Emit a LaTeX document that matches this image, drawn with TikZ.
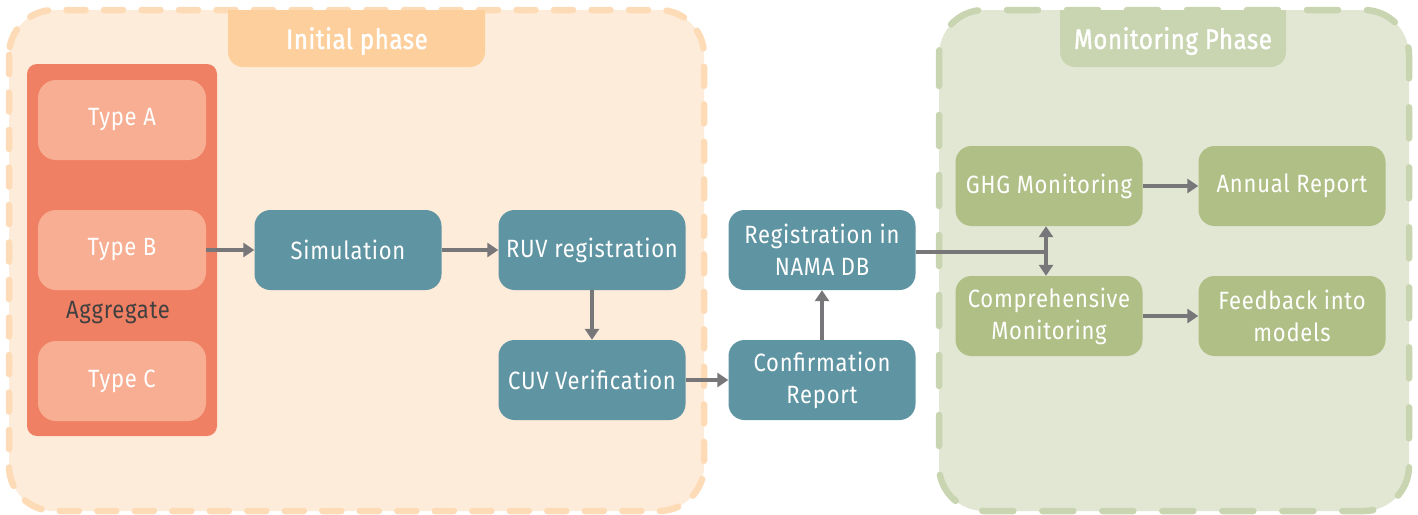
\documentclass[tikz,border=0pt]{standalone}
\usepackage{fontspec}
\setmainfont{Fira Sans}[FakeStretch=0.88, LetterSpace=3]
\newfontfamily\titlefont{Fira Sans}[FakeStretch=0.86, LetterSpace=2, FakeBold=1.3]
\usetikzlibrary{arrows.meta}
\definecolor{inifill}{HTML}{FDECDA}
\definecolor{iniborder}{HTML}{FDDBB6}
\definecolor{initab}{HTML}{FDCF9D}
\definecolor{aggcol}{HTML}{F08064}
\definecolor{typecol}{HTML}{F7AE93}
\definecolor{tealcol}{HTML}{5F94A2}
\definecolor{greencol}{HTML}{AFBF85}
\definecolor{monfill}{HTML}{E2E7D3}
\definecolor{monborder}{HTML}{C9D5B1}
\definecolor{arrowcol}{HTML}{77777A}
\definecolor{aggtext}{HTML}{404040}
\tikzset{
  basebox/.style={rounded corners=16pt, minimum width=187pt, minimum height=80pt, align=center, text=white, font=\fontsize{25}{32}\selectfont, inner sep=0pt},
  tealbox/.style={basebox, fill=tealcol},
  greenbox/.style={basebox, fill=greencol},
  typebox/.style={basebox, fill=typecol, minimum width=168pt, rounded corners=18pt},
  conn/.style={draw=arrowcol, line width=4pt, -{Triangle[width=14pt,length=11pt]}},
  plainconn/.style={draw=arrowcol, line width=4pt},
  titletext/.style={text=white, font=\fontsize{28}{32}\titlefont},
}
\begin{document}
\begin{tikzpicture}[x=1pt,y=-1pt]
\useasboundingbox (0,0) rectangle (1418,514);
% containers
\draw[fill=inifill, draw=iniborder, line width=6.5pt, line cap=round, dash pattern=on 19pt off 18.5pt, rounded corners=45pt] (9,10) rectangle (704,511);
\draw[fill=monfill, draw=monborder, line width=6.5pt, line cap=round, dash pattern=on 31pt off 29pt, rounded corners=45pt] (939,10) rectangle (1409,511);
% tabs
\fill[initab] (228,10) [rounded corners=15pt] -- (228,67) -- (485,67) [sharp corners] -- (485,10) -- cycle;
\node[titletext] (initialtitle) at (357,41) {Initial phase};
\fill[monborder] (1060,10) [rounded corners=15pt] -- (1060,67) -- (1286,67) [sharp corners] -- (1286,10) -- cycle;
\node[titletext] (montitle) at (1173,41) {Monitoring Phase};
% aggregate
\node[fill=aggcol, rounded corners=10pt, minimum width=190pt, minimum height=372pt, inner sep=0pt] (agg) at (122,250) {};
\node[text=aggtext, font=\fontsize{25}{32}\selectfont] (aggl) at (118,313) {Aggregate};
\node[typebox] (ta) at (122,120) {Type A};
\node[typebox] (tb) at (122,250) {Type B};
\node[typebox] (tc) at (122,381) {Type C};
% teal boxes
\node[tealbox] (sim) at (348,250) {Simulation};
\node[tealbox] (ruv) at (592,250) {RUV registration};
\node[tealbox] (cuv) at (592,380) {CUV Verification};
\node[tealbox] (nama) at (822,250) {Registration in\\NAMA DB};
\node[tealbox] (conf) at (822,380) {Confirmation\\Report};
% green boxes
\node[greenbox] (ghg) at (1049,186) {GHG Monitoring};
\node[greenbox] (annual) at (1292,186) {Annual Report};
\node[greenbox] (comp) at (1049,316) {Comprehensive\\Monitoring};
\node[greenbox] (feed) at (1292,316) {Feedback into\\models};
% connectors
\draw[conn] (tb.east) -- (sim.west);
\draw[conn] (sim.east) -- (ruv.west);
\draw[conn] (ruv.south) -- (cuv.north);
\draw[conn] (cuv.east) -- (conf.west);
\draw[conn] (conf.north) -- (nama.south);
\coordinate (junc) at (1046,252);
\draw[plainconn] (nama.east |- junc) -- (junc);
\draw[draw=arrowcol, line width=4pt, {Triangle[width=14pt,length=11pt]}-{Triangle[width=14pt,length=11pt]}] (ghg.south -| junc) -- (comp.north -| junc);
\draw[conn] (ghg.east) -- (annual.west);
\draw[conn] (comp.east) -- (feed.west);
\end{tikzpicture}
\end{document}
